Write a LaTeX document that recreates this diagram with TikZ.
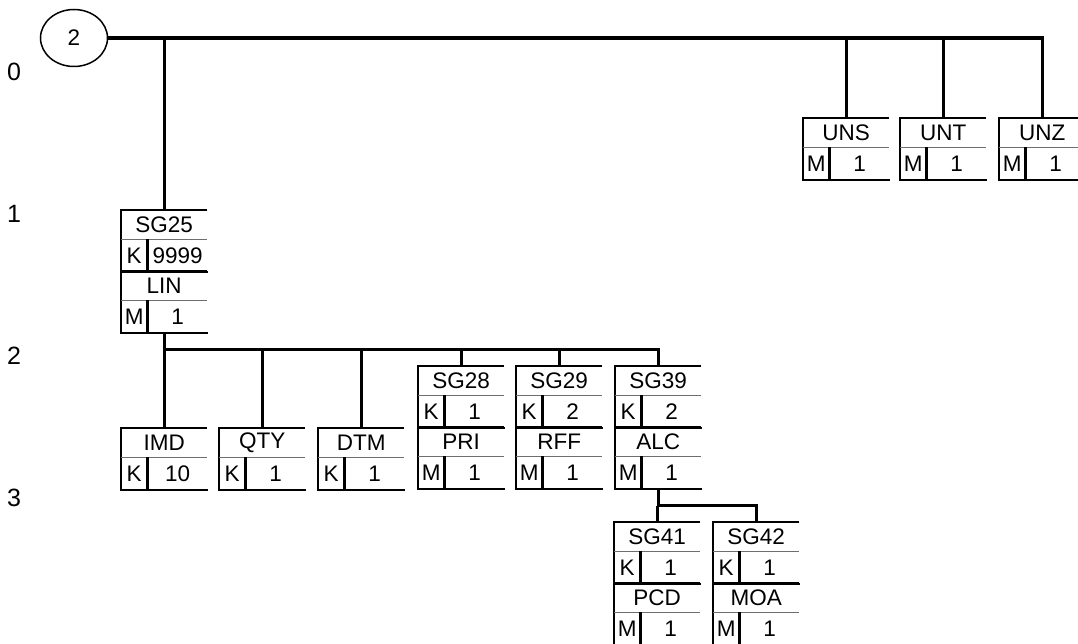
\documentclass[tikz,border=0pt]{standalone}
\usepackage{fontspec}
\setmainfont{Liberation Sans}
\usetikzlibrary{calc,shapes.geometric}
\definecolor{segline}{HTML}{6E6E6E}

% one segment row: name cell on top, status and repeat below
\newcommand{\segrow}[6]{%
  \node[namecell] (#1) at (#2,#3) {#4};
  \node[stcell] (#1-st) at (#1.south west) {#5};
  \node[repcell] (#1-rep) at (#1-st.north east) {#6};
  \draw[rule] (#1.north east) -- (#1.north west) -- (#1-st.south west) -- (#1-rep.south east);
  \draw[thinrule] (#1.south west) -- (#1.south east);
  \draw[rule] (#1-st.north east) -- (#1-st.south east);
}

\begin{document}
\begin{tikzpicture}[x=1pt,y=-1pt,
  namecell/.style={anchor=north west,minimum width=86pt,minimum height=29pt,inner sep=0pt},
  stcell/.style={anchor=north west,minimum width=26pt,minimum height=32pt,inner sep=0pt},
  repcell/.style={anchor=north west,minimum width=60pt,minimum height=32pt,inner sep=0pt},
  rule/.style={line width=2.2pt},
  thinrule/.style={line width=1.5pt,segline},
  link/.style={line width=3.2pt},
  lvl/.style={font=\fontsize{25}{28}\selectfont},
  every node/.style={font=\fontsize{22.5}{26}\selectfont}]
  \useasboundingbox (0,0) rectangle (1078,644);
  % level numbers
  \node[lvl] (lvl0) at (14,72) {0};
  \node[lvl] (lvl1) at (14,214) {1};
  \node[lvl] (lvl2) at (14,356) {2};
  \node[lvl] (lvl3) at (14,498) {3};
  \node[draw,ellipse,line width=1.5pt,minimum width=67pt,minimum height=57pt,inner sep=0pt] (start) at (74,38) {2};
  % level 0
  \segrow{uns}{803}{118}{UNS}{M}{1}
  \segrow{unt}{900}{118}{UNT}{M}{1}
  \segrow{unz}{999}{118}{UNZ}{M}{1}
  % level 1
  \segrow{sg25}{121}{210}{SG25}{K}{9999}
  \segrow{lin}{121}{271}{LIN}{M}{1}
  % level 2
  \segrow{imd}{121}{428}{IMD}{K}{10}
  \segrow{qty}{219}{428}{QTY}{K}{1}
  \segrow{dtm}{318}{428}{DTM}{K}{1}
  \segrow{sg28}{418}{366}{SG28}{K}{1}
  \segrow{pri}{418}{427}{PRI}{M}{1}
  \segrow{sg29}{516}{366}{SG29}{K}{2}
  \segrow{rff}{516}{427}{RFF}{M}{1}
  \segrow{sg39}{615}{366}{SG39}{K}{2}
  \segrow{alc}{615}{427}{ALC}{M}{1}
  % level 3
  \segrow{sg41}{614}{522}{SG41}{K}{1}
  \segrow{pcd}{614}{583}{PCD}{M}{1}
  \segrow{sg42}{713}{522}{SG42}{K}{1}
  \segrow{moa}{713}{583}{MOA}{M}{1}
  % connectors
  \draw[link] (start.east) -| (unz.north);
  \draw[link] (sg25.north) -- (sg25.north |- start.east);
  \draw[link] (uns.north) -- (uns.north |- start.east);
  \draw[link] (unt.north) -- (unt.north |- start.east);
  \coordinate (bus2) at ($(lin.south |- lin-st.south)+(0,17)$);
  \draw[link] (lin.south |- lin-st.south) -- (bus2) -| (sg39.north);
  \foreach \s in {imd,qty,dtm,sg28,sg29}
    \draw[link] (\s.north) -- (\s.north |- bus2);
  \coordinate (bus3) at ($(alc.south |- alc-st.south)+(0,17)$);
  \draw[link] (alc.south |- alc-st.south) -- (bus3) -| (sg42.north);
  \draw[link] (sg41.north) -- (sg41.north |- bus3);
\end{tikzpicture}
\end{document}
